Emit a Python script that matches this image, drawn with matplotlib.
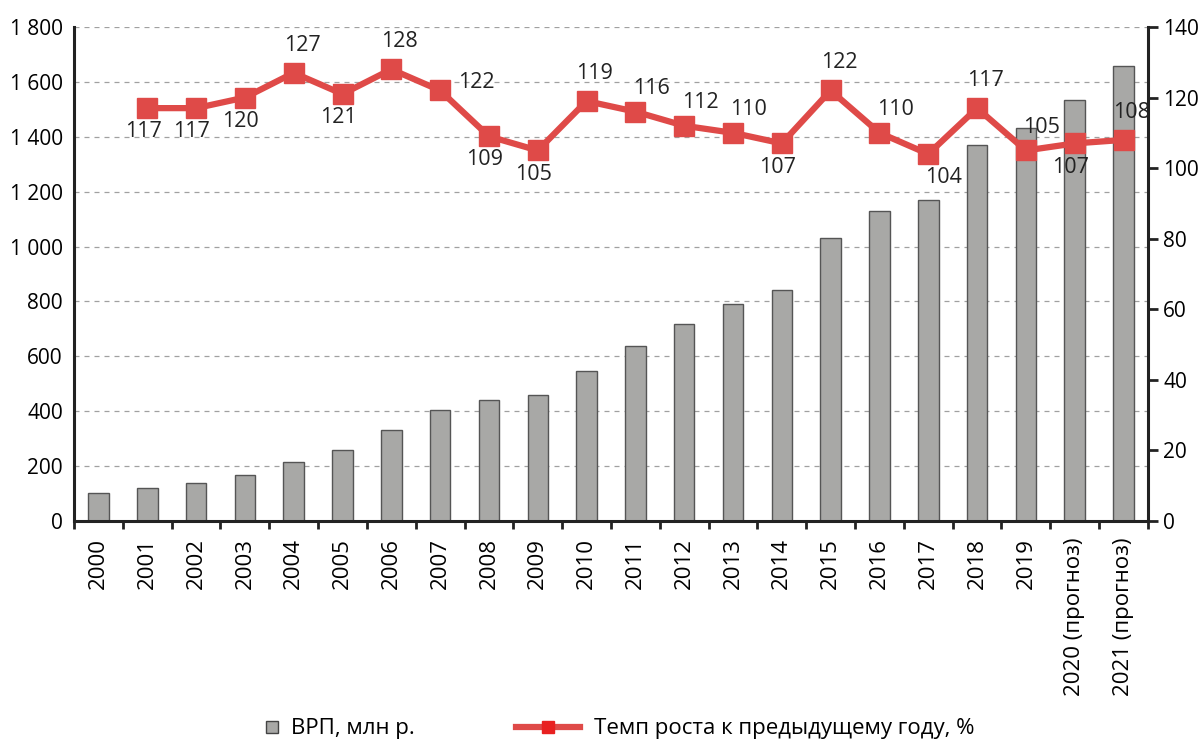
import matplotlib
matplotlib.use("Agg")
import matplotlib.pyplot as plt
from matplotlib.ticker import FuncFormatter
from matplotlib.lines import Line2D

plt.rcParams['font.family'] = ['Open Sans', 'DejaVu Sans']

years = ["2000", "2001", "2002", "2003", "2004", "2005", "2006", "2007", "2008",
         "2009", "2010", "2011", "2012", "2013", "2014", "2015", "2016", "2017",
         "2018", "2019", "2020 (прогноз)", "2021 (прогноз)"]
grp = [102, 120, 140, 168, 215, 259, 332, 405, 441, 459, 547, 638, 718, 791,
       842, 1031, 1130, 1170, 1370, 1432, 1534, 1658]
growth_years = years[1:]
growth = [117, 117, 120, 127, 121, 128, 122, 109, 105, 119, 116, 112, 110, 107,
          122, 110, 104, 117, 105, 107, 108]
# label placement: 'b' below, 'a' above, 'r' above-right, 'R' right, 'br' below-right
label_pos = ['b', 'b', 'b', 'a', 'b', 'a', 'R', 'b', 'b', 'a', 'r', 'r', 'r', 'b',
             'a', 'r', 'br', 'a', 'r', 'b', 'a']

red = '#DF4A48'
fig = plt.figure(figsize=(12.02, 7.49), dpi=100)
ax = fig.add_axes([0.0616, 0.3044, 0.8934, 0.6596])
x = list(range(len(years)))
ax.bar(x, grp, width=0.42, color='#A8A8A6', edgecolor='#555555', linewidth=1.0, zorder=2)
ax.set_xlim(-0.5, len(years) - 0.5)
ax.set_ylim(0, 1800)
ax.set_yticks(range(0, 1801, 200))
ax.yaxis.set_major_formatter(FuncFormatter(lambda v, p: f"{int(v):,}".replace(",", " ")))
ax.grid(axis='y', linestyle=(0, (4, 4)), color='#A0A0A0', linewidth=0.9, zorder=0)
ax.set_axisbelow(True)
ax.set_xticks(x)
ax.set_xticklabels(years, rotation=90, fontsize=16)
ax.set_xticks([i + 0.5 for i in range(-1, len(years))], minor=True)
ax.tick_params(axis='x', which='major', length=0, pad=12)
ax.tick_params(axis='x', which='minor', length=6, width=2, direction='out', color='#222222')
ax.tick_params(axis='y', length=0, labelsize=15, pad=8)
for s in ['top', 'right']:
    ax.spines[s].set_visible(False)
for s in ['left', 'bottom']:
    ax.spines[s].set_linewidth(2.2)
    ax.spines[s].set_color('#222222')

ax2 = ax.twinx()
gx = [years.index(y) for y in growth_years]
ax2.plot(gx, growth, color=red, linewidth=4.5, marker='s', markersize=15,
         markerfacecolor=red, markeredgecolor=red, zorder=3)
ax2.set_ylim(0, 140)
ax2.set_yticks(range(0, 141, 20))
ax2.tick_params(axis='y', length=7, width=2, labelsize=15, color='#222222', pad=4)
for s in ['top', 'left', 'bottom']:
    ax2.spines[s].set_visible(False)
ax2.spines['right'].set_linewidth(2.2)
ax2.spines['right'].set_color('#222222')

offsets = {'b': (-3, -17), 'a': (6, 20), 'r': (11.5, 16.5), 'R': (26, 6), 'br': (11, -17)}
for xi, v, p in zip(gx, growth, label_pos):
    dx, dy = offsets[p]
    ax2.annotate(str(v), (xi, v), xytext=(dx, dy), textcoords='offset points',
                 ha='center', va='center', fontsize=15.5, color='#222222', zorder=4)

h_bar = Line2D([], [], linestyle='none', marker='s', markersize=9,
               markerfacecolor='#A8A8A6', markeredgecolor='#444444', markeredgewidth=1)
h_line = Line2D([], [], color=red, linewidth=4.5, marker='s', markersize=9,
                markerfacecolor='#E82020', markeredgecolor='#E82020')
fig.legend([h_bar], ['ВРП, млн р.'], loc='lower left',
           bbox_to_anchor=(243 / 1202, -0.014), frameon=False,
           fontsize=16, handlelength=0.8, handletextpad=0.45)
fig.legend([h_line], ['Темп роста к предыдущему году, %'], loc='lower left',
           bbox_to_anchor=(496 / 1202, -0.014), frameon=False,
           fontsize=16, handlelength=2.9, handletextpad=0.6)
fig.savefig('out.png', dpi=100)
